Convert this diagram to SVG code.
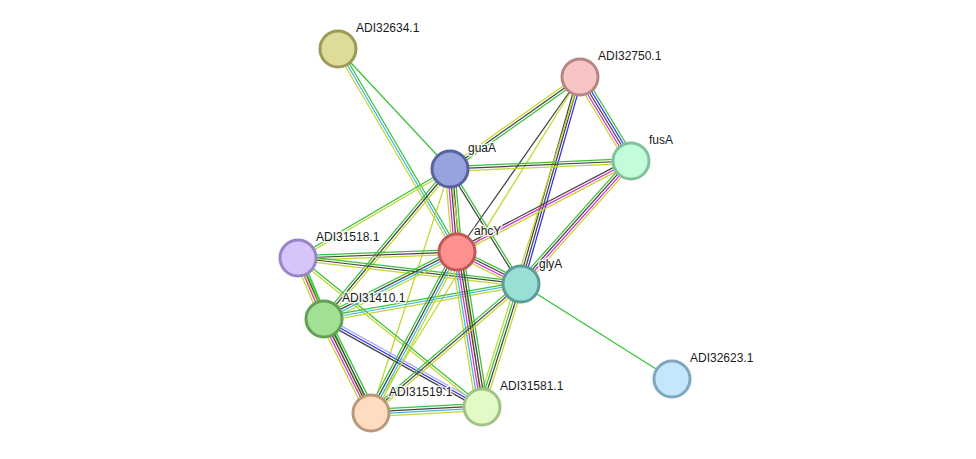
<svg xmlns="http://www.w3.org/2000/svg" width="976" height="459" viewBox="0 0 976 459">
<style>
line{stroke-width:1.25;fill:none;vector-effect:non-scaling-stroke}
.g{stroke:#38c238}.b{stroke:#2f2ff0}.k{stroke:#444}.m{stroke:#d72ad7}.c{stroke:#40b8e0}.y{stroke:#c4d62e}.l{stroke:#aaaaff}
.node circle{stroke-width:3}
text{font-family:"Liberation Sans",Arial,sans-serif;font-size:12px;fill:#1a1a1a;paint-order:stroke;stroke:#fff;stroke-width:3;stroke-opacity:0.85;stroke-linejoin:round}
</style>
<rect width="976" height="459" fill="#fff"/>
<g id="edges">
<g transform="translate(338 49) rotate(46.97) scale(1 1.2)"><line x2="164.1" class="g"/></g>
<g transform="translate(338 49) rotate(59.62) scale(1 1.2)"><line x2="235.3" y1="-2" y2="-2" class="g"/><line x2="235.3" class="c"/><line x2="235.3" y1="2" y2="2" class="y"/></g>
<g transform="translate(580 77) rotate(144.71) scale(1 1.2)"><line x2="159.3" y1="-2" y2="-2" class="g"/><line x2="159.3" class="k"/><line x2="159.3" y1="2" y2="2" class="y"/></g>
<g transform="translate(580 77) rotate(125.10) scale(1 1.2)"><line x2="213.9" class="k"/></g>
<g transform="translate(580 77) rotate(121.88) scale(1 1.2)"><line x2="395.7" class="y"/></g>
<g transform="translate(580 77) rotate(105.91) scale(1 1.2)"><line x2="215.2" y1="-2" y2="-2" class="b"/><line x2="215.2" class="k"/><line x2="215.2" y1="2" y2="2" class="k"/></g>
<g transform="translate(580 77) rotate(107.3) scale(1 1.2)"><line x2="345" class="y"/></g>
<g transform="translate(580 77) rotate(58.74) scale(1 1.2)"><line x2="98.3" y1="-4" y2="-4" class="g"/><line x2="98.3" y1="-2" y2="-2" class="b"/><line x2="98.3" class="k"/><line x2="98.3" y1="2" y2="2" class="m"/><line x2="98.3" y1="4" y2="4" class="y"/></g>
<g transform="translate(631 161) rotate(177.47) scale(1 1.2)"><line x2="181.2" y1="2" y2="2" class="g"/><line x2="181.2" class="k"/><line x2="181.2" y1="-2" y2="-2" class="y"/></g>
<g transform="translate(631 161) rotate(152.39) scale(1 1.2)"><line x2="196.4" y1="2" y2="2" class="k"/><line x2="196.4" class="m"/><line x2="196.4" y1="-2" y2="-2" class="y"/></g>
<g transform="translate(631 161) rotate(131.81) scale(1 1.2)"><line x2="165" y1="3" y2="3" class="g"/><line x2="165" y1="1" y2="1" class="k"/><line x2="165" y1="-1" y2="-1" class="m"/><line x2="165" y1="-3" y2="-3" class="y"/></g>
<g transform="translate(450 169) rotate(85.18) scale(1 1.2)"><line x2="83.3" y1="-4" y2="-4" class="g"/><line x2="83.3" y1="-2" y2="-2" class="k"/><line x2="83.3" class="k"/><line x2="83.3" y1="2" y2="2" class="m"/><line x2="83.3" y1="4" y2="4" class="y"/></g>
<g transform="translate(450 169) rotate(58.31) scale(1 1.2)"><line x2="135.2" y1="-1" y2="-1" class="g"/><line x2="135.2" y1="1" y2="1" class="k"/></g>
<g transform="translate(450 169) rotate(149.65) scale(1 1.2)"><line x2="176.1" y1="1" y2="1" class="g"/><line x2="176.1" y1="-1" y2="-1" class="y"/></g>
<g transform="translate(450 169) rotate(130.03) scale(1 1.2)"><line x2="195.9" y1="2" y2="2" class="g"/><line x2="195.9" class="k"/><line x2="195.9" y1="-2" y2="-2" class="y"/></g>
<g transform="translate(450 169) rotate(107.94) scale(1 1.2)"><line x2="256.5" class="y"/></g>
<g transform="translate(450 169) rotate(82.34) scale(1 1.2)"><line x2="240.1" class="y"/></g>
<g transform="translate(298 258) rotate(-2.16) scale(1 1.2)"><line x2="159.1" y1="-2" y2="-2" class="g"/><line x2="159.1" class="k"/><line x2="159.1" y1="2" y2="2" class="y"/></g>
<g transform="translate(298 258) rotate(6.65) scale(1 1.2)"><line x2="224.5" y1="-2" y2="-2" class="g"/><line x2="224.5" class="k"/><line x2="224.5" y1="2" y2="2" class="y"/></g>
<g transform="translate(298 258) rotate(66.92) scale(1 1.2)"><line x2="66.3" y1="-3" y2="-3" class="g"/><line x2="66.3" y1="-1" y2="-1" class="k"/><line x2="66.3" y1="1" y2="1" class="m"/><line x2="66.3" y1="3" y2="3" class="y"/></g>
<g transform="translate(298 258) rotate(64.78) scale(1 1.2)"><line x2="171.3" y1="-1" y2="-1" class="g"/><line x2="171.3" y1="1" y2="1" class="y"/></g>
<g transform="translate(298 258) rotate(39.00) scale(1 1.2)"><line x2="236.8" y1="-1" y2="-1" class="g"/><line x2="236.8" y1="1" y2="1" class="y"/></g>
<g transform="translate(324 319) rotate(-26.74) scale(1 1.2)"><line x2="148.9" y1="-3" y2="-3" class="g"/><line x2="148.9" y1="-1" y2="-1" class="k"/><line x2="148.9" y1="1" y2="1" class="c"/><line x2="148.9" y1="3" y2="3" class="y"/></g>
<g transform="translate(324 319) rotate(-10.07) scale(1 1.2)"><line x2="200.1" y1="-2" y2="-2" class="g"/><line x2="200.1" class="c"/><line x2="200.1" y1="2" y2="2" class="y"/></g>
<g transform="translate(324 319) rotate(63.43) scale(1 1.2)"><line x2="105.1" y1="-4" y2="-4" class="g"/><line x2="105.1" y1="-2" y2="-2" class="k"/><line x2="105.1" class="k"/><line x2="105.1" y1="2" y2="2" class="m"/><line x2="105.1" y1="4" y2="4" class="y"/></g>
<g transform="translate(324 319) rotate(29.12) scale(1 1.2)"><line x2="180.9" y1="-2" y2="-2" class="l"/><line x2="180.9" class="b"/><line x2="180.9" y1="2" y2="2" class="k"/></g>
<g transform="translate(457 252) rotate(26.57) scale(1 1.2)"><line x2="71.6" y1="-3" y2="-3" class="g"/><line x2="71.6" y1="-1" y2="-1" class="k"/><line x2="71.6" y1="1" y2="1" class="m"/><line x2="71.6" y1="3" y2="3" class="y"/></g>
<g transform="translate(457 252) rotate(118.11) scale(1 1.2)"><line x2="182.5" y1="3" y2="3" class="g"/><line x2="182.5" y1="1" y2="1" class="k"/><line x2="182.5" y1="-1" y2="-1" class="c"/><line x2="182.5" y1="-3" y2="-3" class="y"/></g>
<g transform="translate(457 252) rotate(80.84) scale(1 1.2)"><line x2="157" y1="-5" y2="-5" class="g"/><line x2="157" y1="-3" y2="-3" class="k"/><line x2="157" y1="-1" y2="-1" class="k"/><line x2="157" y1="1" y2="1" class="m"/><line x2="157" y1="3" y2="3" class="c"/><line x2="157" y1="5" y2="5" class="y"/></g>
<g transform="translate(521 284) rotate(139.30) scale(1 1.2)"><line x2="197.8" y1="2" y2="2" class="g"/><line x2="197.8" class="k"/><line x2="197.8" y1="-2" y2="-2" class="y"/></g>
<g transform="translate(521 284) rotate(107.59) scale(1 1.2)"><line x2="129" y1="2" y2="2" class="g"/><line x2="129" class="k"/><line x2="129" y1="-2" y2="-2" class="y"/></g>
<g transform="translate(521 284) rotate(32.17) scale(1 1.2)"><line x2="178.4" class="g"/></g>
<g transform="translate(371 413) rotate(-3.09) scale(1 1.2)"><line x2="111.2" y1="-3" y2="-3" class="g"/><line x2="111.2" y1="-1" y2="-1" class="k"/><line x2="111.2" y1="1" y2="1" class="c"/><line x2="111.2" y1="3" y2="3" class="y"/></g>
</g>
<g id="node-ADI32634.1" class="node"><circle cx="338" cy="49" r="18" fill="#dedc98" stroke="#9b9a58"/><text x="356" y="32">ADI32634.1</text></g>
<g id="node-ADI32750.1" class="node"><circle cx="580" cy="77" r="18" fill="#f7c5c5" stroke="#b88585"/><text x="598" y="60">ADI32750.1</text></g>
<g id="node-fusA" class="node"><circle cx="631" cy="161" r="18" fill="#c2fcd9" stroke="#80c29c"/><text x="649" y="144">fusA</text></g>
<g id="node-guaA" class="node"><circle cx="450" cy="169" r="18" fill="#98a3de" stroke="#5663a0"/><text x="468" y="152">guaA</text></g>
<g id="node-ahcY" class="node"><circle cx="457" cy="252" r="18" fill="#fe9090" stroke="#c05858"/><text x="474" y="235">ahcY</text></g>
<g id="node-ADI31518.1" class="node"><circle cx="298" cy="258" r="18" fill="#d6c4fb" stroke="#9984c6"/><text x="316" y="241">ADI31518.1</text></g>
<g id="node-glyA" class="node"><circle cx="521" cy="284" r="18" fill="#9adfd6" stroke="#5e9d95"/><text x="539" y="268">glyA</text></g>
<g id="node-ADI31410.1" class="node"><circle cx="324" cy="319" r="18" fill="#a2e095" stroke="#62a055"/><text x="342" y="302">ADI31410.1</text></g>
<g id="node-ADI32623.1" class="node"><circle cx="672" cy="379" r="18" fill="#c3e7fc" stroke="#80a7c0"/><text x="690" y="362">ADI32623.1</text></g>
<g id="node-ADI31519.1" class="node"><circle cx="371" cy="413" r="18" fill="#fddcbf" stroke="#b89a7a"/><text x="389" y="396">ADI31519.1</text></g>
<g id="node-ADI31581.1" class="node"><circle cx="482" cy="407" r="18" fill="#e1fbc6" stroke="#a2c285"/><text x="500" y="390">ADI31581.1</text></g>
</svg>
